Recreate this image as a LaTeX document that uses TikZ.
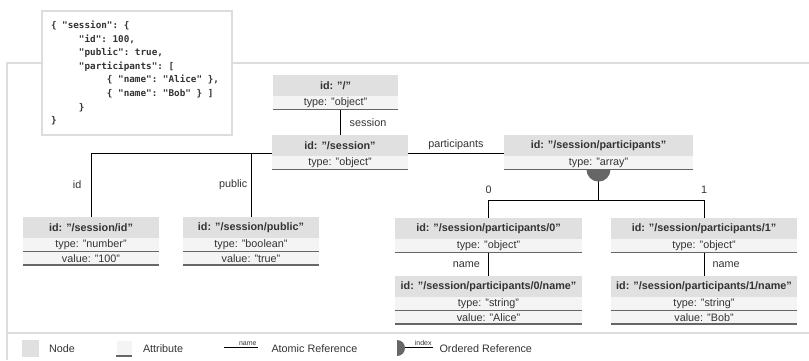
\documentclass[tikz,border=0pt]{standalone}
\usepackage{fontspec}
\setmainfont{Liberation Sans}
\setmonofont{DejaVu Sans Mono}
\usetikzlibrary{positioning}

\definecolor{headgray}{HTML}{E0E0E0}
\definecolor{attrgray}{HTML}{F4F4F4}
\definecolor{rulegray}{HTML}{666666}
\definecolor{framegray}{HTML}{DDDDDD}
\definecolor{inkgray}{HTML}{333333}

\begin{document}
\begin{tikzpicture}[x=1pt, y=-1pt, font=\fontsize{10.8}{13}\selectfont, text=inkgray]
	\tikzset{head/.style = {fill=headgray, minimum width=#1, minimum height=21pt, inner sep=0pt, font=\fontsize{10.8}{13}\selectfont\bfseries}}
	\tikzset{attr/.style = {fill=attrgray, minimum width=#1, minimum height=13pt, inner sep=0pt}}
	\tikzset{rule/.style = {draw=rulegray, line width=1.6pt}}
	\tikzset{link/.style = {draw=black, line width=0.8pt}}
	\tikzset{frame/.style = {draw=framegray, line width=2pt}}
	\tikzset{tiny/.style = {font=\fontsize{7}{8}\selectfont, inner sep=1pt}}
	\useasboundingbox (0,0) rectangle (809,360);

	% frame round the tree and the legend strip
	\draw[frame] (809,63) -- (7,63) -- (7,360);
	\draw[frame] (7,333) -- (809,333);

	% flush left keeps the mono spaces one character wide
	\node[frame, fill=white, anchor=north west, text width=172pt, inner xsep=9pt,
		minimum height=124pt, align=flush left, font=\ttfamily\bfseries\fontsize{9.3}{13.6}\selectfont] (json) at (41,10) {%
		\{ "session": \{\\
		~~~~~"id": 100,\\
		~~~~~"public": true,\\
		~~~~~"participants": [\\
		~~~~~~~~~~\{ "name": "Alice" \},\\
		~~~~~~~~~~\{ "name": "Bob" \} ]\\
		~~~~~\}\\
		\}};

	% tree nodes
	\node[head=125pt] (root) at (335.5,85.5) {id: "/"};
	\node[attr=125pt, below=0pt of root] (roottype) {type: "object"};

	\node[head=136pt] (ses) at (340,145.5) {id: "/session"};
	\node[attr=136pt, below=0pt of ses] (sestype) {type: "object"};

	\node[head=189pt] (parts) at (598.5,145.5) {id: "/session/participants"};
	\node[attr=189pt, below=0pt of parts] (partstype) {type: "array"};

	\node[head=136pt] (sid) at (91,227.5) {id: "/session/id"};
	\node[attr=136pt, below=0pt of sid] (sidtype) {type: "number"};
	\node[attr=136pt, below=0pt of sidtype] (sidval) {value: "100"};

	\node[head=136pt] (spub) at (251,227.5) {id: "/session/public"};
	\node[attr=136pt, below=0pt of spub] (spubtype) {type: "boolean"};
	\node[attr=136pt, below=0pt of spubtype] (spubval) {value: "true"};

	\node[head=187pt] (p0) at (488.5,228.5) {id: "/session/participants/0"};
	\node[attr=187pt, below=0pt of p0] (p0type) {type: "object"};

	\node[head=186pt] (p1) at (704,228.5) {id: "/session/participants/1"};
	\node[attr=186pt, below=0pt of p1] (p1type) {type: "object"};

	\node[head=187pt] (p0name) at (488.5,286.5) {id: "/session/participants/0/name"};
	\node[attr=187pt, below=0pt of p0name] (p0nametype) {type: "string"};
	\node[attr=187pt, below=0pt of p0nametype] (p0nameval) {value: "Alice"};

	\node[head=186pt] (p1name) at (704,286.5) {id: "/session/participants/1/name"};
	\node[attr=186pt, below=0pt of p1name] (p1nametype) {type: "string"};
	\node[attr=186pt, below=0pt of p1nametype] (p1nameval) {value: "Bob"};

	\foreach \n in {roottype, sestype, partstype, sidtype, sidval, spubtype, spubval,
		p0type, p1type, p0nametype, p0nameval, p1nametype, p1nameval}
		\draw[rule] (\n.south west) -- (\n.south east);

	% atomic references
	\draw[link] (ses.north) -- (ses.north |- roottype.south) node[midway, right=6pt] {session};
	\coordinate (sesr) at ([yshift=3pt]ses.south east);
	\coordinate (sesl) at ([yshift=3pt]ses.south west);
	\draw[link] (sesr) -- (sesr -| parts.west) node[midway, above] {participants};
	\draw[link] (sesl) -| (sid.north) node[pos=0.75, left=6pt] {id};
	\draw[link] (spub.north) -- (spub.north |- sesl) node[midway, left] {public};
	\draw[link] (p0type.south) -- (p0name.north) node[midway, left=5pt] {name};
	\draw[link] (p1type.south) -- (p1name.north) node[midway, right=5pt] {name};

	% ordered reference
	\coordinate (fork) at ([yshift=-31pt]partstype.south);
	\draw[link] (partstype.south) -- (fork);
	\draw[link] (fork) -| (p0.north) node[pos=0.5, above=3pt] {0};
	\draw[link] (fork) -| (p1.north) node[pos=0.5, above=3pt] {1};
	\fill[rulegray] (partstype.south) ++(-12,0) arc[start angle=180, end angle=0, radius=12] -- cycle;

	% legend
	\node[fill=headgray, minimum size=17pt, inner sep=0pt] (keynode) at (30,348.5) {};
	\node[anchor=west] (keynodetxt) at (45.5,349) {Node};
	\node[fill=attrgray, minimum size=15pt, inner sep=0pt] (keyattr) at (124,348) {};
	\draw[rule] (keyattr.south west) -- (keyattr.south east);
	\node[anchor=west] (keyattrtxt) at (139.5,349) {Attribute};
	\coordinate (atomA) at (224,347);
	\coordinate (atomB) at (258,347);
	\draw[link] (atomA) -- (atomB) node[pos=1, above left, tiny] {name};
	\node[anchor=west] (keyatomtxt) at (268,349) {Atomic Reference};
	\coordinate (ordA) at (405,347);
	\coordinate (ordB) at (433,347);
	\fill[rulegray] (397,340) arc[start angle=-90, end angle=90, radius=8] -- cycle;
	\draw[link] (ordA) -- (ordB) node[pos=1, above left, tiny] {index};
	\node[anchor=west] (keyordtxt) at (436,349) {Ordered Reference};
\end{tikzpicture}
\end{document}
